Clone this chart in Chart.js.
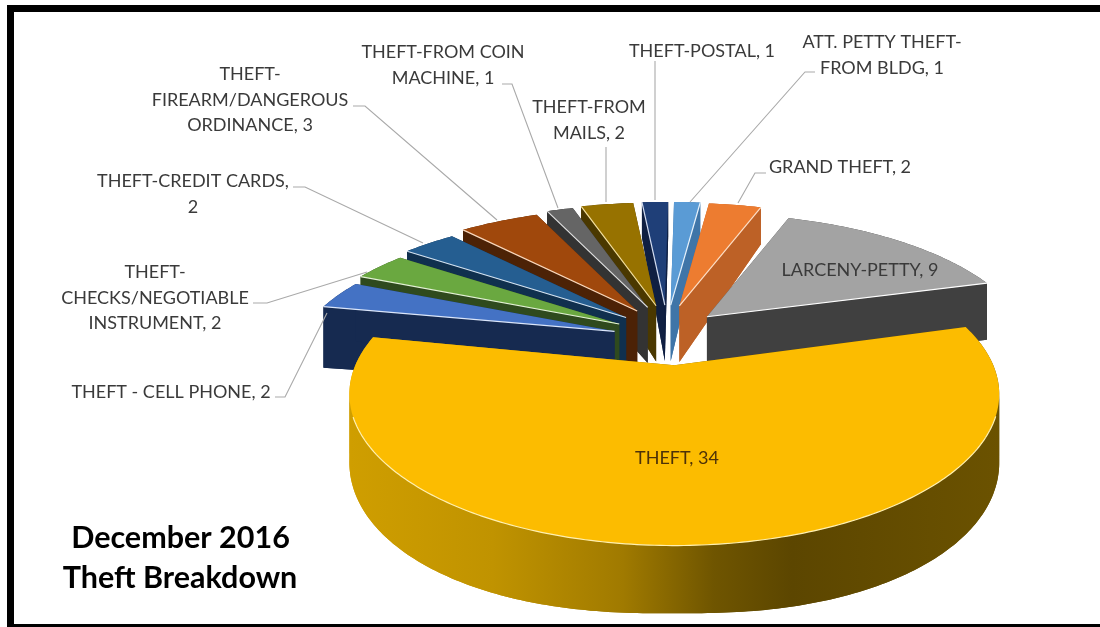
<!DOCTYPE html>
<html><head><meta charset="utf-8">
<style>html,body{margin:0;padding:0;background:#fff}canvas{display:block}</style>
<script src="https://cdn.jsdelivr.net/npm/chart.js@4"></script>
</head><body>
<canvas id="c" width="1100" height="627" style="width:1100px;height:627px"></canvas>
<script>
const categories = ["THEFT","THEFT - CELL PHONE","THEFT-CHECKS/NEGOTIABLE INSTRUMENT","THEFT-CREDIT CARDS","THEFT-FIREARM/DANGEROUS ORDINANCE","THEFT-FROM COIN MACHINE","THEFT-FROM MAILS","THEFT-POSTAL","ATT. PETTY THEFT-FROM BLDG","GRAND THEFT","LARCENY-PETTY"];
const values = [34,2,2,2,3,1,2,1,1,2,9];
const topColors = ["#fcbc00","#4472c4","#6aa840","#255e91","#a0480c","#656565","#977200","#1f3f78","#5a9bd5","#ed7c30","#a3a3a3"];
const sideColors = [null,"#162a50","#2f4a1e","#10304e","#4c2206","#333333","#4a3800","#0f1f42","#3f75a8","#bd6126","#404040"];
const edgeColors = ["#fff0b0","#dbe6fa","#e4f2d6","#d5e4f2","#fbd9bd","#e0e0e0","#f5e2a0","#d5def2","#e8f2fb","#fde0c8","#ffffff"];
const explode = [60,100,100,100,100,100,100,100,100,100,100];
const labelLines = [["THEFT, 34"],["THEFT - CELL PHONE, 2"],["THEFT-","CHECKS/NEGOTIABLE","INSTRUMENT, 2"],["THEFT-CREDIT CARDS,","2"],["THEFT-","FIREARM/DANGEROUS","ORDINANCE, 3"],["THEFT-FROM COIN","MACHINE, 1"],["THEFT-FROM","MAILS, 2"],["THEFT-POSTAL, 1"],["ATT. PETTY THEFT-","FROM BLDG, 1"],["GRAND THEFT, 2"],["LARCENY-PETTY, 9"]];
const labelCenters = [[677,458],[171,392],[155,272],[193,181],[250,74],[443,52],[589,107],[702,51],[882,42],[840,167],[860,270]];
const leaders = [null,[[275,397],[285,397],[327,313]],[[253,303],[267,303],[367,272]],[[293,187],[305,187],[423,243]],[[353,106],[365,106],[497,220]],[[502,84],[512,84],[558,208]],[[606,147],[606,202]],[[655,61],[655,200]],[[815,72],[805,72],[690,202]],[[766,173],[755,173],[738,203]],null];
const titleLines = ["December 2016","Theft Breakdown"];

const backView = {cx:667, a:313, b:131, p:0.27};
const frontView = {cx:673, a:319, b:146, p:0.19};
const explodeScale = {cy:342.7, ex:55, ey:37.7};
const depthAt = (x,y) => 34 + 0.1*(y-208) + 0.055*(Math.hypot(x-675,40)-40) + 14*Math.max(0,1-Math.hypot(x-670,y-320)/130);

function project(v, apex, th){
  const c=Math.cos(th), s=Math.sin(th), d=1-v.p*s;
  return [apex[0]+v.a*c/d, apex[1]+v.b*s/d];
}
function poly(ctx, list){ ctx.beginPath(); list.forEach((q,j)=>j?ctx.lineTo(q[0],q[1]):ctx.moveTo(q[0],q[1])); ctx.closePath(); }
// fill the wall under the rim, one run per direction of travel, so folds at the ellipse's extremes do not cancel
function fillWall(ctx, rim, lowRim){
  let from=0;
  const dir=j=>Math.sign(rim[j+1][0]-rim[j][0]);
  for(let j=1;j<=rim.length-1;j++){
    if(j===rim.length-1 || dir(j)!==dir(from)){
      poly(ctx,[...rim.slice(from,j+1),...lowRim.slice(from,j+1).reverse()]); ctx.fill();
      from=j;
    }
  }
}
const pie3d = {
  id:'pie3d',
  beforeDatasetDraw(chart){
    const ctx=chart.ctx, meta=chart.getDatasetMeta(0);
    ctx.save();
    ctx.fillStyle='#000';
    ctx.fillRect(7,5,1093,7); ctx.fillRect(7,5,7,622); ctx.fillRect(7,624,1093,3);

    const items=meta.data.map((arc,i)=>({arc,i,mid:(arc.startAngle+arc.endAngle)/2}))
      .sort((u,v)=>Math.sin(u.mid)-Math.sin(v.mid));

    for(const it of items){
      const {arc,i,mid}=it, k=explode[i]/100, v=i===0?frontView:backView;
      const apex=[v.cx+explodeScale.ex*k*Math.cos(mid), explodeScale.cy+explodeScale.ey*k*Math.sin(mid)];
      const rim=[];
      const n=Math.max(4,Math.ceil((arc.endAngle-arc.startAngle)/0.015));
      for(let j=0;j<=n;j++) rim.push(project(v,apex,arc.startAngle+(arc.endAngle-arc.startAngle)*j/n));
      const pts=[apex,...rim];
      const low=pts.map(q=>[q[0],q[1]+depthAt(q[0],q[1])]);
      const lowRim=low.slice(1);
      let side=sideColors[i];
      if(!side){
        side=ctx.createLinearGradient(350,0,1000,0);
        side.addColorStop(0,'#cf9e00'); side.addColorStop(0.22,'#c09300');
        side.addColorStop(0.42,'#a07a00'); side.addColorStop(0.56,'#6f5500');
        side.addColorStop(0.68,'#5c4600'); side.addColorStop(1,'#6b5200');
      }
      ctx.fillStyle=side;
      poly(ctx,low); ctx.fill();
      fillWall(ctx,rim,lowRim);
      poly(ctx,[apex,rim[0],lowRim[0],low[0]]); ctx.fill();
      poly(ctx,[apex,rim[n],lowRim[n],low[0]]); ctx.fill();

      ctx.fillStyle=topColors[i];
      poly(ctx,pts); ctx.fill();
      ctx.strokeStyle=edgeColors[i]; ctx.lineWidth=1.2; ctx.beginPath();
      if(i===0){ let started=false; rim.forEach(q=>{ if(q[1]>apex[1]+50){ if(started) ctx.lineTo(q[0],q[1]); else {ctx.moveTo(q[0],q[1]); started=true;} } }); }
      else if(Math.cos(mid)<0){ ctx.moveTo(apex[0],apex[1]); ctx.lineTo(rim[0][0],rim[0][1]); }
      else { ctx.moveTo(apex[0],apex[1]); ctx.lineTo(rim[n][0],rim[n][1]); }
      ctx.stroke();
    }
    ctx.strokeStyle='#a9a9a9'; ctx.lineWidth=1.1;
    leaders.forEach(l=>{ if(!l) return; ctx.beginPath(); l.forEach((q,j)=>j?ctx.lineTo(q[0],q[1]):ctx.moveTo(q[0],q[1])); ctx.stroke(); });
    ctx.font='18px Lato'; ctx.textAlign='center'; ctx.textBaseline='middle';
    labelLines.forEach((lines,i)=>{
      ctx.fillStyle=i===0?'#4d3208':'#3a3a3a';
      lines.forEach((t,j)=>ctx.fillText(t,labelCenters[i][0],labelCenters[i][1]+j*25.7));
    });
    ctx.font='bold 30.5px Lato'; ctx.fillStyle='#000';
    ctx.fillText(titleLines[0],180.5,538); ctx.fillText(titleLines[1],180,578);
    ctx.restore();
    return false;
  }
};
new Chart(document.getElementById('c'),{
  type:'pie',
  data:{labels:categories,datasets:[{data:values,backgroundColor:topColors,borderWidth:0}]},
  options:{responsive:false,devicePixelRatio:1,animation:false,rotation:74,
    plugins:{legend:{display:false},tooltip:{enabled:false},title:{display:false}}},
  plugins:[pie3d]
});
</script>
</body></html>
